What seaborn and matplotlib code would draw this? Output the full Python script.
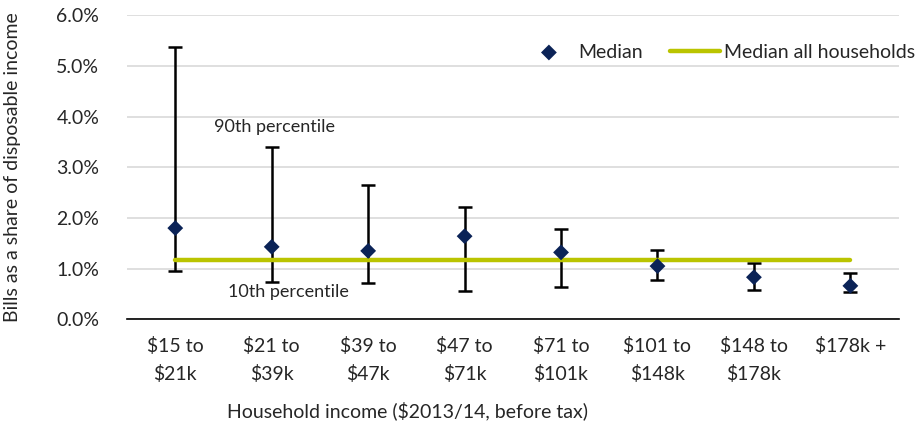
import matplotlib
matplotlib.use("Agg")
import matplotlib.pyplot as plt
import matplotlib.ticker as ticker
import seaborn as sns
import pandas as pd

# data (percent of disposable income)
categories = ["$15 to\n$21k", "$21 to\n$39k", "$39 to\n$47k", "$47 to\n$71k",
              "$71 to\n$101k", "$101 to\n$148k", "$148 to\n$178k", "$178k +"]
median = [1.80, 1.43, 1.35, 1.64, 1.32, 1.05, 0.83, 0.66]
p10 = [0.96, 0.74, 0.72, 0.55, 0.63, 0.78, 0.58, 0.54]
p90 = [5.38, 3.41, 2.65, 2.22, 1.78, 1.37, 1.11, 0.92]
median_all = 1.18

sns.set_style("white")
plt.rcParams['font.family'] = ['Lato', 'DejaVu Sans']

df = pd.DataFrame({"pos": range(len(categories)), "median": median,
                   "p10": p10, "p90": p90, "all": [median_all] * len(categories)})

fig, ax = plt.subplots(figsize=(9.16, 4.23), dpi=100)
fig.subplots_adjust(left=0.1387, right=0.981, top=0.9638, bottom=0.2452)

ax.errorbar(df["pos"], df["median"],
            yerr=[df["median"] - df["p10"], df["p90"] - df["median"]],
            fmt="none", ecolor="black", elinewidth=1.8, capsize=5, capthick=1.8, zorder=2)
sns.lineplot(data=df, x="pos", y="all", ax=ax, color="#bac400", linewidth=3.2,
             label="Median all households", zorder=3, solid_capstyle="round")
sns.scatterplot(data=df, x="pos", y="median", ax=ax, marker="D", color="#0b2357",
                s=65, edgecolor="none", label="Median", zorder=4)

ax.set_xlim(-0.5, len(categories) - 0.5)
ax.set_ylim(0, 6)
ax.yaxis.set_major_locator(ticker.MultipleLocator(1))
ax.yaxis.set_major_formatter(ticker.FuncFormatter(lambda v, p: f"{v:.1f}%"))
ax.grid(axis="y", color="#d9d9d9", linewidth=1.2)
ax.set_axisbelow(True)

ax.set_xticks(range(len(categories)))
ax.set_xticklabels(categories, fontsize=14, linespacing=1.65)
ax.set_xticks([i - 0.5 for i in range(len(categories) + 1)], minor=True)
ax.tick_params(axis="x", which="major", length=0, pad=13)
ax.tick_params(axis="x", which="minor", length=6, color="#555555", width=0.8)
ax.tick_params(axis="y", length=0, pad=20, labelsize=14)

for s in ["left", "right", "top"]:
    ax.spines[s].set_visible(False)
ax.spines["bottom"].set_color("black")
ax.spines["bottom"].set_linewidth(1.2)

ax.set_ylabel("Bills as a share of disposable income", fontsize=14)
ax.yaxis.set_label_coords(-0.137, 0.5)
ax.set_xlabel("Household income ($2013/14, before tax)", fontsize=14)
ax.xaxis.set_label_coords(0.363, -0.27)

ax.text(1.03, 3.80, "90th percentile", ha="center", va="center", fontsize=13)
ax.text(1.17, 0.54, "10th percentile", ha="center", va="center", fontsize=13)

handles, labels = ax.get_legend_handles_labels()
order = [labels.index("Median"), labels.index("Median all households")]
ax.legend([handles[i] for i in order], [labels[i] for i in order],
          loc="center left", bbox_to_anchor=(0.514, 0.879), ncol=2, frameon=False,
          fontsize=14, handlelength=2.6, columnspacing=1.4, handletextpad=0.2,
          borderpad=0, borderaxespad=0)

fig.savefig("out.png", dpi=100)
